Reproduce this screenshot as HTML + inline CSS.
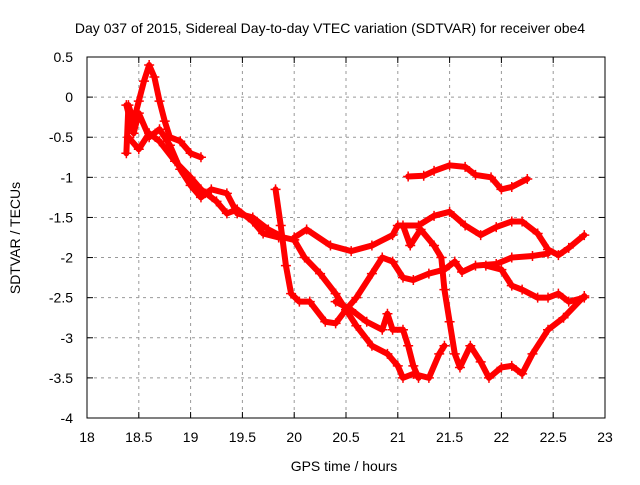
<!DOCTYPE html>
<html><head><meta charset="utf-8"><style>
body{margin:0;background:#fff}
svg{font-family:"Liberation Sans",sans-serif;font-size:14px}
</style></head><body>
<svg id="c" width="640" height="480">
<text x="330" y="33" text-anchor="middle">Day 037 of 2015, Sidereal Day-to-day VTEC variation (SDTVAR) for receiver obe4</text>
<text x="344" y="471" text-anchor="middle">GPS time / hours</text>
<text transform="translate(20,238) rotate(-90)" text-anchor="middle">SDTVAR / TECUs</text>
<g id="grid"></g><g id="series"></g><g id="ticks"></g>
<rect x="87" y="57" width="518" height="361" fill="none" stroke="#000" stroke-width="1"/>
</svg>
<script>
const xTicks=[18,18.5,19,19.5,20,20.5,21,21.5,22,22.5,23];
const yTicks=[0.5,0,-0.5,-1,-1.5,-2,-2.5,-3,-3.5,-4];
const trackA=[[21.1,-0.99],[21.25,-0.98],[21.35,-0.92],[21.5,-0.85],[21.65,-0.87],[21.75,-0.97],[21.9,-1.0],[22.0,-1.15],[22.1,-1.12],[22.25,-1.02]];
const trackB=[[20.0,-1.75],[20.12,-1.65],[20.35,-1.85],[20.55,-1.92],[20.75,-1.85],[20.95,-1.72],[21.0,-1.6],[21.2,-1.6],[21.35,-1.48],[21.5,-1.43],[21.65,-1.6],[21.8,-1.72],[21.95,-1.62],[22.1,-1.55],[22.2,-1.55],[22.35,-1.7],[22.45,-1.9],[22.55,-1.97],[22.65,-1.88],[22.8,-1.72]];
const trackC=[[19.82,-1.15],[19.87,-1.6],[19.92,-2.1],[19.97,-2.45],[20.05,-2.55],[20.15,-2.55],[20.3,-2.8],[20.4,-2.82],[20.5,-2.65],[20.6,-2.5],[20.75,-2.2],[20.85,-2.0],[20.95,-2.05],[21.05,-2.25],[21.15,-2.28],[21.3,-2.2],[21.45,-2.15],[21.55,-2.05],[21.62,-2.18],[21.75,-2.1],[21.95,-2.08],[22.1,-2.0],[22.3,-1.98],[22.45,-1.95]];
const trackD=[[21.85,-2.1],[22.0,-2.15],[22.1,-2.35],[22.2,-2.4],[22.35,-2.5],[22.45,-2.5],[22.55,-2.45],[22.65,-2.55],[22.8,-2.5]];
const trackE=[[20.0,-1.78],[20.1,-2.0],[20.25,-2.2],[20.4,-2.45],[20.5,-2.65],[20.6,-2.85],[20.75,-3.1],[20.9,-3.2],[21.0,-3.35],[21.05,-3.5],[21.15,-3.45],[21.3,-3.5],[21.4,-3.2],[21.45,-3.1]];
const trackF=[[20.4,-2.55],[20.55,-2.65],[20.7,-2.8],[20.85,-2.9],[20.9,-2.7],[20.95,-2.9],[21.05,-2.9],[21.1,-3.1],[21.15,-3.35],[21.2,-3.5]];
const trackG=[[21.05,-1.6],[21.12,-1.85],[21.22,-1.65],[21.35,-1.85],[21.42,-2.0],[21.45,-2.4],[21.5,-2.8],[21.55,-3.2],[21.6,-3.37],[21.7,-3.1],[21.8,-3.3],[21.88,-3.5],[22.0,-3.37],[22.1,-3.35],[22.2,-3.45],[22.3,-3.2],[22.45,-2.9],[22.6,-2.75],[22.8,-2.48]];
const trackH=[[18.38,-0.7],[18.4,-0.1],[18.45,-0.3],[18.5,-0.05],[18.55,0.2],[18.6,0.4],[18.65,0.25],[18.7,-0.05],[18.75,-0.3],[18.8,-0.5],[18.9,-0.55],[19.0,-0.7],[19.1,-0.75]];
const trackI=[[18.38,-0.1],[18.45,-0.45],[18.5,-0.2],[18.6,-0.5],[18.7,-0.4],[18.8,-0.6],[18.9,-0.9],[19.0,-1.1],[19.1,-1.25],[19.2,-1.15],[19.35,-1.2],[19.45,-1.45],[19.6,-1.5],[19.75,-1.65],[19.9,-1.75],[20.0,-1.78]];
const trackJ=[[18.4,-0.5],[18.5,-0.65],[18.6,-0.45],[18.7,-0.55],[18.85,-0.8],[19.0,-1.0],[19.1,-1.15],[19.25,-1.3],[19.35,-1.45],[19.45,-1.4],[19.6,-1.55],[19.7,-1.7],[19.85,-1.75]];
const tracks=[trackA,trackB,trackC,trackD,trackE,trackF,trackG,trackH,trackI,trackJ];
const NS="http://www.w3.org/2000/svg";
const X0=87,X1=605,Y0=57,Y1=418;
function xs(v){return X0+(v-18)/5*(X1-X0);}
function ys(v){return Y0+(0.5-v)/4.5*(Y1-Y0);}
function mk(tag,attrs,parent){const e=document.createElementNS(NS,tag);for(const k in attrs)e.setAttribute(k,attrs[k]);parent.appendChild(e);return e;}
const grid=document.getElementById('grid'),ticks=document.getElementById('ticks'),ser=document.getElementById('series');
xTicks.forEach(t=>{const x=xs(t);
 if(t>18&&t<23){const g=mk('line',{x1:x,x2:x,y1:Y0,y2:Y1,stroke:'#999','stroke-dasharray':'3,4'},grid);
 
 }
 mk('line',{x1:x,x2:x,y1:Y1,y2:Y1-6,stroke:'#000'},ticks);
 mk('line',{x1:x,x2:x,y1:Y0,y2:Y0+6,stroke:'#000'},ticks);
 const l=mk('text',{x:x,y:442,'text-anchor':'middle'},ticks);l.textContent=t;
 
 });
yTicks.forEach(t=>{const y=ys(t);
 if(t<0.5&&t>-4){const g=mk('line',{x1:X0,x2:X1,y1:y,y2:y,stroke:'#999','stroke-dasharray':'3,4'},grid);
 
 }
 mk('line',{x1:X0,x2:X0+6,y1:y,y2:y,stroke:'#000'},ticks);
 mk('line',{x1:X1,x2:X1-6,y1:y,y2:y,stroke:'#000'},ticks);
 const l=mk('text',{x:73,y:y+5,'text-anchor':'end'},ticks);l.textContent=t;
 
 });
tracks.forEach((tr,i)=>{
 const g=mk('g',{},ser);
 
 
 mk('polyline',{points:tr.map(p=>xs(p[0])+','+ys(p[1])).join(' '),fill:'none',stroke:'#f00','stroke-width':6,'stroke-linejoin':'round','stroke-linecap':'round'},g);
 tr.forEach(p=>{const x=xs(p[0]),y=ys(p[1]);
  const m=mk('path',{d:`M${x-5},${y}H${x+5}M${x},${y-5}V${y+5}`,stroke:'#f00','stroke-width':1.5},g);
  
  });
});
</script>
</body></html>
